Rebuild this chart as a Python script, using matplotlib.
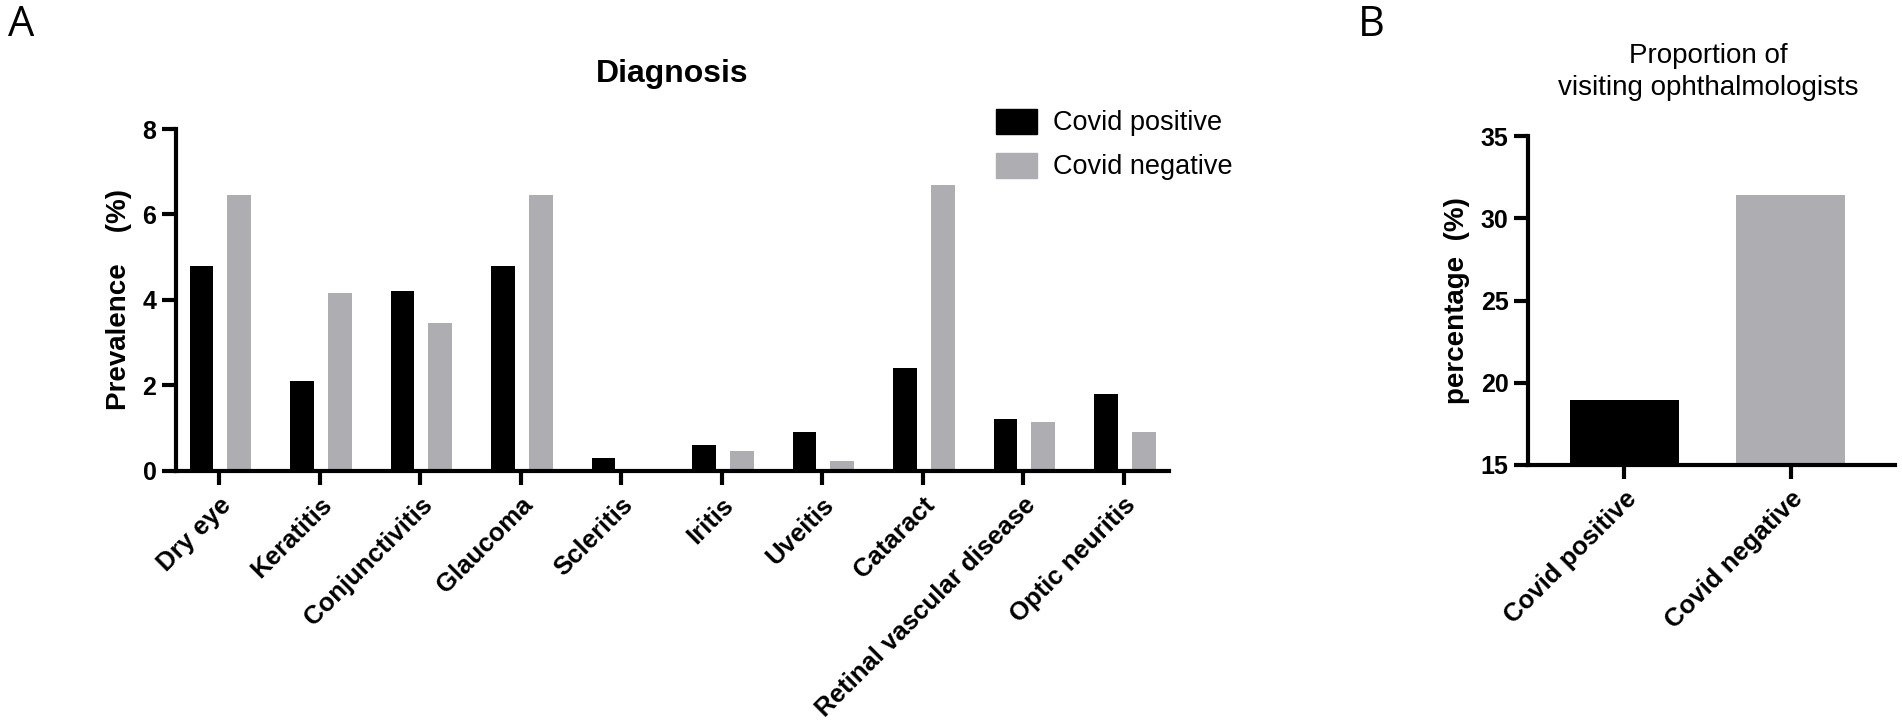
import matplotlib
matplotlib.use("Agg")
from matplotlib import pyplot as plt
from matplotlib.patches import Patch
import numpy as np

plt.rcParams['font.family'] = ['Liberation Sans', 'DejaVu Sans']

# Panel A data
diagnoses = ['Dry eye', 'Keratitis', 'Conjunctivitis', 'Glaucoma', 'Scleritis',
             'Iritis', 'Uveitis', 'Cataract', 'Retinal vascular disease', 'Optic neuritis']
covid_pos = [4.8, 2.1, 4.2, 4.8, 0.3, 0.6, 0.9, 2.4, 1.2, 1.8]
covid_neg = [6.45, 4.15, 3.45, 6.45, 0.0, 0.45, 0.22, 6.68, 1.14, 0.91]

# Panel B data
groups = ['Covid positive', 'Covid negative']
visit_pct = [18.95, 31.4]

BLACK = '#000000'
GREY = '#AEAEB2'

fig = plt.figure(figsize=(19.02, 7.25), dpi=100)

# ---- Panel A
axA = fig.add_axes([0.0925, 0.351, 0.522, 0.471])
x = np.arange(len(diagnoses))
axA.bar(x - 0.175, covid_pos, 0.236, color=BLACK, label='Covid positive')
axA.bar(x + 0.2, covid_neg, 0.236, color=GREY, label='Covid negative')
axA.set_xlim(-0.43, 9.45)
axA.set_ylim(0, 8)
axA.set_yticks([0, 2, 4, 6, 8])
axA.set_xticks(x)
axA.set_xticklabels(diagnoses, rotation=45, ha='right', va='top',
                    rotation_mode='anchor', fontsize=18.5, fontweight='bold')
axA.set_ylabel('Prevalence    (%)', fontsize=20, fontweight='bold', labelpad=8)
axA.text(0.5, 1.16, 'Diagnosis', transform=axA.transAxes, ha='center', va='center',
         fontsize=23, fontweight='bold')
axA.legend(handles=[Patch(color=BLACK), Patch(color=GREY)],
           labels=['Covid positive', 'Covid negative'],
           loc='upper left', bbox_to_anchor=(0.826, 1.06), frameon=False,
           fontsize=19.5, handlelength=1.5, handleheight=1.05,
           handletextpad=0.6, labelspacing=0.6, borderpad=0, borderaxespad=0)

# ---- Panel B
axB = fig.add_axes([0.8034, 0.359, 0.193, 0.453])
xb = np.arange(len(groups))
axB.bar(xb, visit_pct, 0.66, color=[BLACK, GREY])
axB.set_xlim(-0.58, 1.63)
axB.set_ylim(15, 35)
axB.set_yticks([15, 20, 25, 30, 35])
axB.set_xticks(xb)
axB.set_xticklabels(groups, rotation=45, ha='right', va='top',
                    rotation_mode='anchor', fontsize=18.5, fontweight='bold')
axB.set_ylabel('percentage  (%)', fontsize=20, fontweight='bold', labelpad=8)
axB.text(0.49, 1.195, 'Proportion of\nvisiting ophthalmologists', transform=axB.transAxes,
         ha='center', va='center', fontsize=20, linespacing=1.3)

for ax in (axA, axB):
    ax.spines['top'].set_visible(False)
    ax.spines['right'].set_visible(False)
    ax.spines['left'].set_linewidth(3)
    ax.spines['bottom'].set_linewidth(3)
    ax.tick_params(axis='both', width=3, length=10, direction='out')
    ax.tick_params(axis='x', pad=6)
    ax.tick_params(axis='y', pad=4, labelsize=18)
    for lab in ax.get_yticklabels():
        lab.set_fontweight('bold')

fig.text(0.004, 0.965, 'A', fontsize=30, family='Open Sans', va='center', ha='left')
fig.text(0.714, 0.965, 'B', fontsize=30, family='Open Sans', va='center', ha='left')

fig.savefig('out.png', dpi=100)
